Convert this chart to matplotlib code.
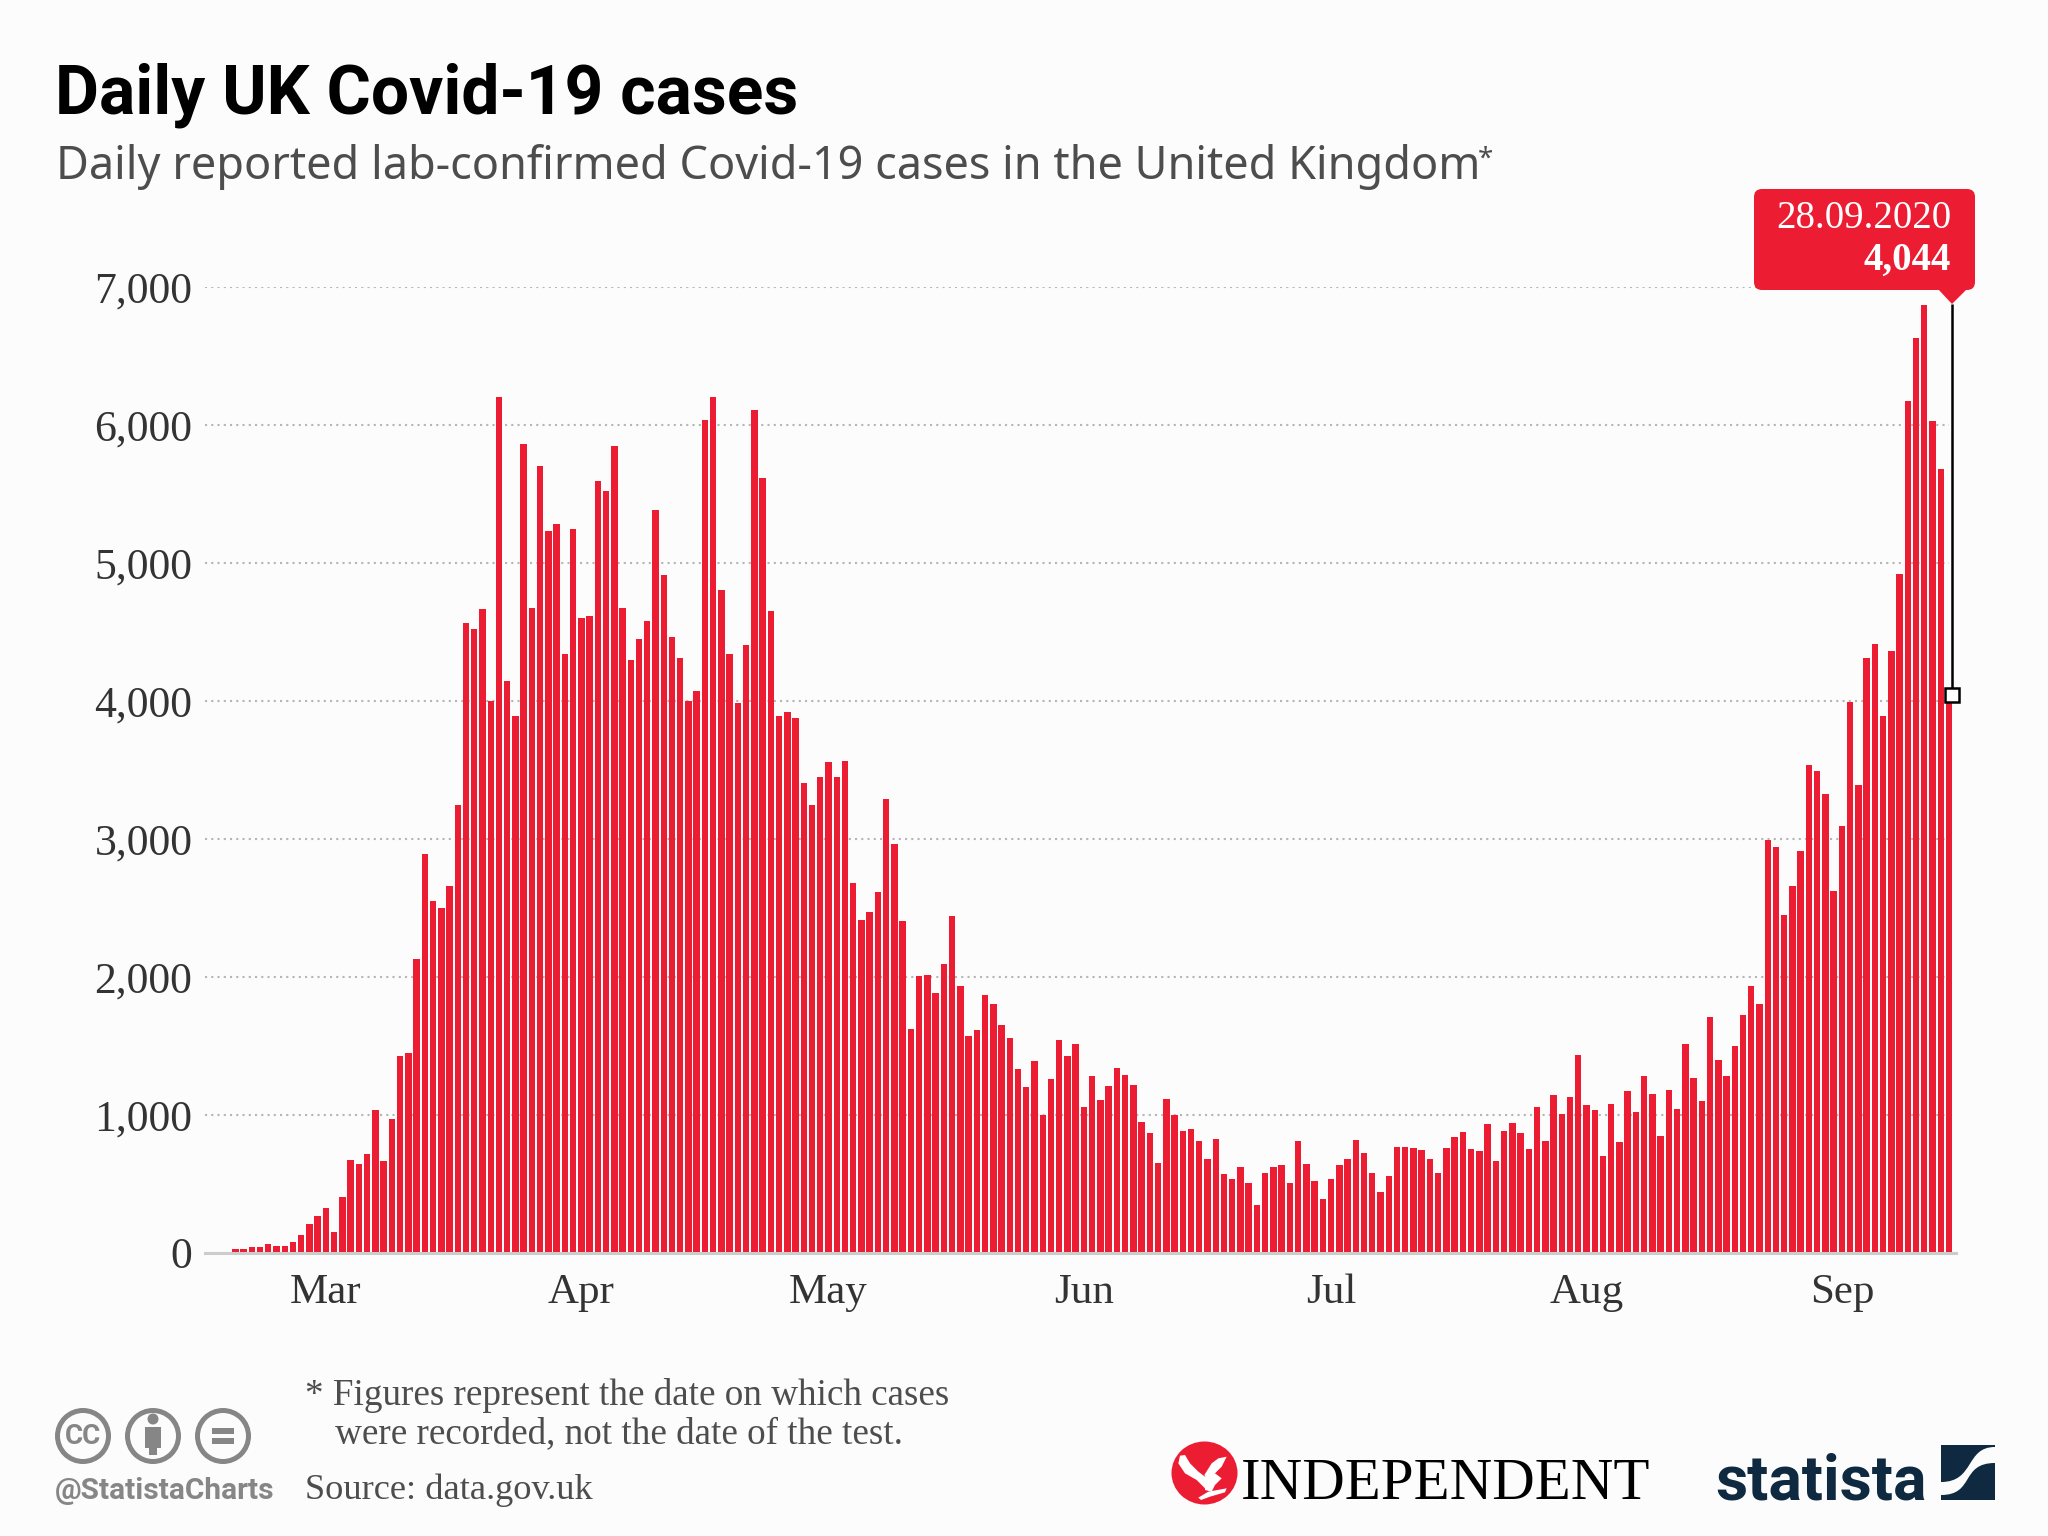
#!/usr/bin/env python3
"""Daily UK Covid-19 cases - bar chart with callout and footer logos."""

import matplotlib
matplotlib.use("Agg")
import matplotlib.pyplot as plt
from matplotlib.patches import Circle, Ellipse, FancyBboxPatch, PathPatch, Polygon, Rectangle
from matplotlib.path import Path

# values, one bar per day
daily_cases = [
    29, 25, 42, 42, 62, 46, 46, 79, 129, 204, 262, 325, 150, 404, 674, 641, 712, 1032, 662, 965,
    1423, 1448, 2127, 2888, 2551, 2501, 2659, 3246, 4565, 4519, 4669, 3995, 6200, 4141, 3887, 5859,
    4673, 5705, 5231, 5285, 4340, 5248, 4603, 4615, 5597, 5522, 5847, 4673, 4299, 4449, 4582,
    5385, 4911, 4461, 4307, 3995, 4074, 6034, 6200, 4802, 4336, 3983, 4403, 6109, 5614, 4648,
    3891, 3920, 3874, 3404, 3242, 3446, 3558, 3450, 3562, 2680, 2409, 2468, 2613, 3288, 2959,
    2405, 1623, 2002, 2010, 1885, 2093, 2443, 1935, 1569, 1610, 1868, 1802, 1648, 1556, 1327,
    1203, 1386, 999, 1261, 1540, 1423, 1511, 1053, 1278,
    1109, 1210, 1341, 1288, 1215, 949, 867, 647, 1114, 998, 884, 896, 807, 681, 821, 570, 536,
    618, 507, 345, 573, 623, 635, 505, 812, 643, 522, 391, 532, 635, 681, 819, 720, 575, 437,
    553, 763, 763, 761, 742, 679, 575, 756, 841, 872, 754, 737, 930, 664, 884, 942, 865, 751,
    1052, 811, 1140, 1001, 1124, 1432, 1068, 1032, 703, 1078, 801, 1170, 1022, 1283, 1150, 842,
    1176, 1037, 1514, 1268, 1099, 1709, 1396, 1283, 1499, 1725, 1930, 1802, 2988, 2941, 2449,
    2654, 2911, 3532, 3491, 3321, 2618, 3095, 3989, 3388, 4312, 4415, 3891, 4358, 4918, 6170,
    6627, 6869, 6032, 5683, 4044,
]
month_labels = ["Mar", "Apr", "May", "Jun", "Jul", "Aug", "Sep"]
month_positions = [11, 42, 72, 103, 133, 164, 195]
y_ticks = [0, 1000, 2000, 3000, 4000, 5000, 6000, 7000]
callout_date = "28.09.2020"
callout_value = "4,044"

RED = "#ec1c33"
NAVY = "#0f2a40"
GREY = "#868686"
BG = "#fcfcfc"
SERIF = "Liberation Serif"

fig = plt.figure(figsize=(20.48, 15.36), dpi=100, facecolor=BG)

############################
# Chart
############################

ax = fig.add_axes([205 / 2048, (1536 - 1252.5) / 1536, 1751 / 2048, (1252.5 - 287) / 1536])
ax.set_facecolor("none")
days = list(range(len(daily_cases)))
ax.set_xlim(-3.68, 208.85)
ax.set_ylim(0, 7000)

ax.hlines(y_ticks[1:], -3.68, days[-1], color="#b5b5b5", lw=1.5, linestyle=(0, (1, 2)), zorder=1)
ax.bar(days, daily_cases, width=0.78, color=RED, zorder=2)

for side in ["top", "right", "left"]:
    ax.spines[side].set_visible(False)
ax.spines["bottom"].set_color("#cccccc")
ax.spines["bottom"].set_linewidth(2.2)
ax.spines["bottom"].set_zorder(3)

ax.set_yticks(y_ticks)
ax.set_yticklabels([f"{v:,}" for v in y_ticks], family=SERIF, fontsize=31.5, color="#333333")
ax.set_xticks(month_positions)
ax.set_xticklabels(month_labels, family=SERIF, fontsize=31, color="#333333")
ax.tick_params(axis="both", length=0)
ax.tick_params(axis="y", pad=9)
ax.tick_params(axis="x", pad=15)

# highlight on the latest day
pointer_x = days[-1] + 0.37
ax.vlines(pointer_x, daily_cases[-1], 6880, color="black", lw=1.8, zorder=4, clip_on=False)
ax.plot([pointer_x], [daily_cases[-1]], marker="s", ms=10, mfc="white", mec="black", mew=1.8,
        zorder=5, clip_on=False)

############################
# Everything around the chart, placed in pixels
############################

ov = fig.add_axes([0, 0, 1, 1], facecolor="none")
ov.set_xlim(0, 2048)
ov.set_ylim(1536, 0)
ov.axis("off")

ov.text(55, 113, "Daily UK Covid-19 cases", family="Roboto", weight="bold", fontsize=48.8,
        color="black", va="baseline")
ov.text(56, 179, "Daily reported lab-confirmed Covid-19 cases in the United Kingdom",
        family="Noto Sans", fontsize=32.4, color="#4d4d4d", va="baseline")
ov.text(1478, 167, "*", family="Noto Sans", fontsize=20, color="#4d4d4d", va="baseline")

# callout
ov.add_patch(FancyBboxPatch((1760, 195), 209, 89, boxstyle="round,pad=6,rounding_size=8",
                            fc=RED, ec="none", zorder=6))
ov.add_patch(Polygon([[1938, 289], [1967, 289], [1952, 304]], closed=True, fc=RED, ec="none", zorder=6))
ov.text(1951, 228, callout_date, family=SERIF, fontsize=28, color="white", ha="right",
        va="baseline", zorder=7)
ov.text(1951, 270, callout_value, family=SERIF, weight="bold", fontsize=28, color="white", ha="right",
        va="baseline", zorder=7)

# footnote and source
ov.text(305, 1405, "* Figures represent the date on which cases", family=SERIF, fontsize=26.7,
        color="#4d4d4d", va="baseline")
ov.text(335, 1443, "were recorded, not the date of the test.", family=SERIF, fontsize=26.7,
        color="#4d4d4d", va="baseline")
ov.text(305, 1499, "Source: data.gov.uk", family=SERIF, fontsize=26.2, color="#4d4d4d", va="baseline")

# cc icons
for cx in [83, 153, 223]:
    ov.add_patch(Circle((cx, 1436), 25.5, fc="none", ec=GREY, lw=3.6))
ov.text(83, 1437, "CC", family="Roboto", weight="bold", fontsize=20, color=GREY, ha="center", va="center")
ov.add_patch(Circle((153, 1419), 5.5, fc=GREY, ec="none"))
ov.add_patch(Rectangle((145, 1427), 16, 21, fc=GREY, ec="none"))
ov.add_patch(Rectangle((149, 1440), 8, 15, fc=GREY, ec="none"))
ov.add_patch(Rectangle((212, 1428), 22, 6, fc=GREY, ec="none"))
ov.add_patch(Rectangle((212, 1438), 22, 6, fc=GREY, ec="none"))
ov.text(55, 1499, "@StatistaCharts", family="Roboto", weight="bold", fontsize=21.5, color=GREY, va="baseline")

ov.add_patch(Ellipse((1204.5, 1473), 66, 63, fc=RED, ec="none"))
eagle_shapes = [
    [(45, 62), (60, 60), (75, 85), (100, 110), (120, 125), (125, 165), (95, 135), (60, 115), (40, 85)],
    [(185, 65), (160, 70), (140, 85), (118, 120), (128, 135), (150, 115), (170, 95)],
    [(120, 125), (150, 115), (170, 130), (160, 140), (150, 150), (140, 170), (120, 165)],
    [(100, 188), (130, 170), (185, 160), (180, 172), (135, 185), (108, 195)],
]
for shape in eagle_shapes:
    ov.add_patch(Polygon([(1165 + zx / 3, 1435 + zy / 3) for zx, zy in shape], closed=True, fc="white", ec="none"))
ov.text(1241, 1499, "INDEPENDENT", family=SERIF, fontsize=42.4, color="black", va="baseline")

# statista logo
ov.text(1715, 1500, "statista", family="Roboto", weight="bold", fontsize=45, color=NAVY, va="baseline")
ov.add_patch(Rectangle((1941, 1445), 54, 55, fc=NAVY, ec="none"))
swoosh = Path(
    [(1995, 1447), (1965, 1447), (1975, 1482), (1941, 1482), (1941, 1495), (1975, 1495), (1960, 1463),
     (1995, 1463), (1995, 1447)],
    [Path.MOVETO, Path.CURVE4, Path.CURVE4, Path.CURVE4, Path.LINETO, Path.CURVE4, Path.CURVE4, Path.CURVE4,
     Path.CLOSEPOLY],
)
ov.add_patch(PathPatch(swoosh, fc=BG, ec="none"))

fig.savefig("out.png", dpi=100, facecolor=BG)
